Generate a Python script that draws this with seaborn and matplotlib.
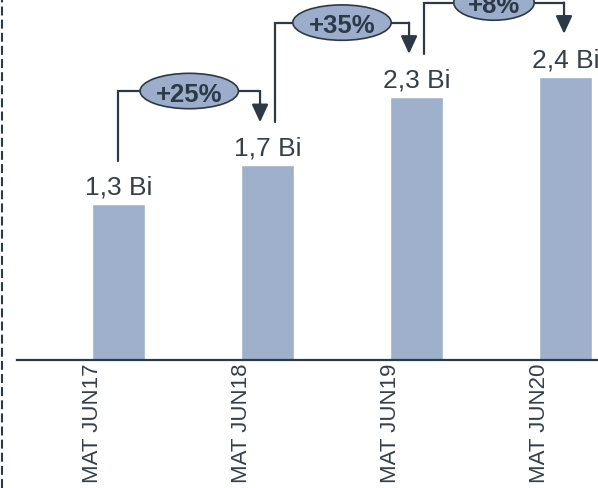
import matplotlib
matplotlib.use("Agg")
import pandas as pd
import seaborn as sns
import matplotlib.pyplot as plt
import matplotlib.transforms as mtransforms
from matplotlib.patches import Ellipse
from matplotlib.lines import Line2D

# Data
categories = ["MAT JUN17", "MAT JUN18", "MAT JUN19", "MAT JUN20"]
values = [1.32, 1.65, 2.23, 2.40]
value_labels = ["1,3 Bi", "1,7 Bi", "2,3 Bi", "2,4 Bi"]
growth_labels = ["+25%", "+35%", "+8%"]

# Colours
BAR = "#9eb0cc"
ELL = "#9cadcb"
DARK = "#2c3a47"
TXT = "#333f4a"

sns.set_style("white")
plt.rcParams["font.family"] = ["Liberation Sans", "DejaVu Sans"]

fig = plt.figure(figsize=(5.98, 4.89), dpi=100)
ax = fig.add_axes([17 / 598, 128 / 489, 581 / 598, 361 / 489])

df = pd.DataFrame({"period": categories, "value": values})
sns.barplot(data=df, x="period", y="value", color=BAR, saturation=1,
            width=0.356, ax=ax)
ax.set_xlim(-0.681, 3.218)
ax.set_ylim(0, 3.06)

# Value labels above the bars
for i, (v, lab) in enumerate(zip(values, value_labels)):
    ax.annotate(lab, (i, v), xytext=(0, 4), textcoords="offset points",
                ha="center", va="bottom", fontsize=19, color=TXT)

# Growth connectors with ellipse badges
lift, rise, side = 0.365, 0.63, 0.05
for i, g in enumerate(growth_labels):
    x0 = i + (side if i > 0 else 0)
    x1 = i + 1 - (side if i + 1 < len(values) - 1 else 0.01)
    y0 = values[i] + lift
    y_top = values[i + 1] + rise
    y1 = values[i + 1] + lift
    ax.plot([x0, x0, x1], [y0, y_top, y_top], color=DARK, lw=1.6,
            clip_on=False, solid_joinstyle="miter")
    ax.annotate("", xy=(x1, y1), xytext=(x1, y_top),
                arrowprops=dict(arrowstyle="-|>,head_length=0.54,head_width=0.25",
                                mutation_scale=20, color=DARK, lw=1.6,
                                shrinkA=0, shrinkB=0),
                annotation_clip=False)
    ew = 0.18 + 0.12 * len(g)
    ax.add_patch(Ellipse(((x0 + x1) / 2, y_top), ew, 0.3, facecolor=ELL,
                         edgecolor=DARK, lw=1.2, zorder=5, clip_on=False))
    ax.text((x0 + x1) / 2, y_top, g, ha="center", va="center_baseline",
            fontsize=18.5, fontweight="bold", color=DARK, zorder=6)

# Axis styling
ax.set_xticks(range(len(categories)))
ax.set_xticklabels(categories, rotation=90, fontsize=16, color=TXT)
ax.tick_params(axis="x", length=0, pad=2)
shift = mtransforms.ScaledTranslation(-26 / 100, 0, fig.dpi_scale_trans)
for lbl in ax.get_xticklabels():
    lbl.set_transform(lbl.get_transform() + shift)
ax.set_yticks([])
ax.set_xlabel("")
ax.set_ylabel("")
for s in ["top", "right", "left"]:
    ax.spines[s].set_visible(False)
ax.spines["bottom"].set_color(DARK)
ax.spines["bottom"].set_linewidth(1.6)

# Dashed frame line on the left
fig.add_artist(Line2D([0.003, 0.003], [0, 1], transform=fig.transFigure,
                      color=DARK, lw=1.5, linestyle=(0, (4.3, 2))))

fig.savefig("out.png", dpi=100)
